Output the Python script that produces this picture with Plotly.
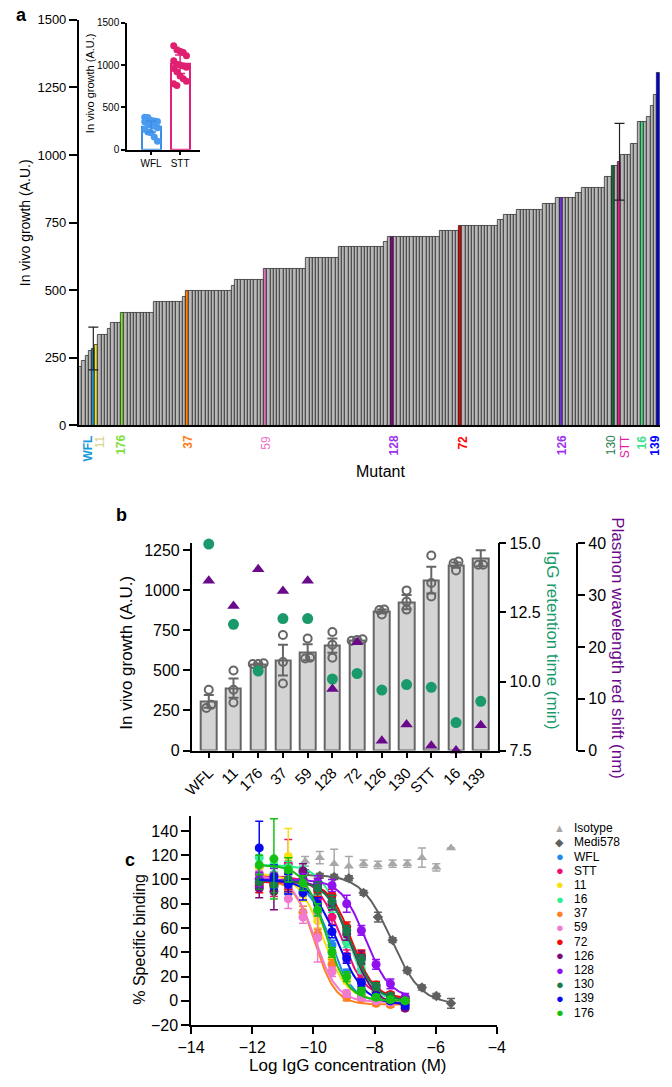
import numpy as np
import plotly.graph_objects as go

W, H = 672, 1087
def fx(p): return p / W
def fy(p): return 1 - p / H

FONT = "Liberation Sans, Arial, sans-serif"

# ---------------- panel a data ----------------
a_values = [218, 237, 258, 277, 284, 298, 335, 335, 335, 357, 378, 378, 378,
            418, 418, 418, 418, 418, 418, 418, 418, 418, 418,
            458, 458, 458, 458, 458, 458, 458, 458, 458,
            477,
            499, 499, 499, 499, 499, 499, 499, 499, 499, 499, 499, 499, 499, 499,
            517,
            538, 538, 538, 538, 538, 538, 538, 538, 538,
            578, 578, 578, 578, 578, 578, 578, 578, 578, 578, 578, 578, 578,
            619, 619, 619, 619, 619, 619, 619, 619, 619, 619,
            659, 659, 659, 659, 659, 659, 659, 659, 659, 659, 659, 659, 659, 659,
            680,
            699, 699, 699, 699, 699, 699, 699, 699, 699, 699, 699, 699, 699, 699, 699, 699,
            720, 720, 720, 720, 720, 720,
            739, 739, 739, 739, 739, 739, 739, 739, 739, 739, 739, 739,
            759, 759,
            780, 780, 780, 780,
            799, 799, 799, 799, 799, 799, 799, 799,
            820, 820, 820, 820,
            840, 840, 840, 840, 840, 840,
            859, 859,
            880, 880, 880, 880, 880, 880, 880,
            920, 920,
            960, 960, 975,
            1000, 1000, 1000,
            1040, 1040,
            1121, 1121, 1121,
            1142, 1182, 1222, 1303]
a_hl_names = ['WFL', '11', '176', '37', '59', '128', '72', '126', '130', 'STT', '16', '139']
a_hl_index = [4, 5, 13, 33, 57, 96, 117, 148, 164, 166, 173, 178]
a_hl_bar_colors = ['#2090c8', '#f0e030', '#80e030', '#ff8000', '#e070c0', '#8b008b',
                   '#e00000', '#7030e0', '#1a6a3a', '#e0208a', '#40e080', '#0000e0']
a_hl_label_colors = ['#1a9ad8', '#d8d080', '#80e040', '#ff7f20', '#f070c8', '#a030f0',
                     '#ff0000', '#a030f0', '#2a8050', '#e020a0', '#40e090', '#0000ff']
a_hl_bold = [True, False, True, True, False, True, True, True, False, False, True, True]
a_hl_shift = [-5, 3, -1, 1, 1, 2, 3, 1, -2, 5, 0, -3]
a_err_index = [4, 166]
a_err_mean = [284, 975]
a_err_size = [79, 142]
a_yticks = [0, 250, 500, 750, 1000, 1250, 1500]

# inset
inset_cats = ['WFL', 'STT']
inset_wfl_points = [385, 380, 345, 340, 335, 330, 300, 290, 280, 260, 240, 210, 200, 150, 100]
inset_stt_points = [1230, 1180, 1165, 1150, 1110, 1050, 1010, 1000, 990, 975, 960, 920, 870, 840, 810, 780, 760]
inset_means = [275, 1010]
inset_sd = [65, 110]

# ---------------- panel b data ----------------
b_cats = ['WFL', '11', '176', '37', '59', '128', '72', '126', '130', 'STT', '16', '139']
b_means = [307, 389, 538, 565, 614, 655, 688, 870, 927, 1064, 1158, 1201]
b_sem = [40, 60, 5, 96, 50, 45, 5, 10, 45, 84, 17, 50]
b_points = [[380, 285, 265], [500, 380, 300], [545, 540, 540], [722, 553, 419],
            [700, 580, 575], [740, 660, 580], [685, 690, 695], [880, 878, 850],
            [1000, 930, 880], [1218, 1046, 962], [1180, 1170, 1125], [1300, 1160, 1160]]
b_igg = [14.98, 12.07, 10.38, 12.28, 12.28, 10.09, 10.29, 9.69, 9.89, 9.79, 8.51, 9.28]
b_plasmon = [32.8, 27.9, 35.0, 30.8, 32.8, 11.9, 20.9, 1.9, 5.0, 0.9, 0.0, 4.9]

# ---------------- panel c data ----------------
c_conc = [-11.77, -11.29, -10.82, -10.34, -9.86, -9.39, -8.91, -8.43, -7.95, -7.48, -7.0]
ctrl_conc = [-10.27, -9.79, -9.32, -8.84, -8.36, -7.89, -7.41, -6.93, -6.45, -5.98, -5.5]
iso_vals = [115, 118, 113, 111, 113, 112, 113, 113, 118, 110, 126]
iso_err = [4, 5, 12, 8, 3, 3, 3, 3, 8, 3, 0]
medi_vals = [106, 103, 102, 101, 89, 69, 50, 25, 11, 4, -2]
medi_err = [2, 2, 2, 2, 2, 4, 2, 2, 2, 2, 4]
medi_fit = [104, -3, -7.45, 0.9]  # top, bottom, logIC50, hill

c_names = ['WFL', 'STT', '11', '16', '37', '59', '72', '126', '128', '130', '139', '176']
c_colors = ['#1e88f0', '#f0107a', '#f5e012', '#2ef090', '#ff8020', '#f07ad0',
            '#f00a0a', '#7a0a7a', '#9010f0', '#1a7a4a', '#0a0af0', '#14c014']
c_values = [
    [101, 104, 89, 91, 73, 46, 23, 9, 3, 1, -2],
    [97, 94, 113, 100, 84, 69, 37, 18, 7, 5, 2],
    [110, 100, 119, 88, 66, 35, 18, 5, 2, 0, 0],
    [118, 112, 110, 105, 92, 78, 48, 26, 8, 3, 0],
    [104, 96, 92, 73, 55, 30, 3, 2, -2, -3, -3],
    [105, 98, 84, 69, 52, 24, 6, 3, 0, -1, -2],
    [95, 96, 98, 100, 91, 87, 61, 38, 13, 5, 2],
    [93, 90, 98, 107, 96, 80, 55, 36, 10, 2, -6],
    [100, 103, 99, 100, 98, 95, 80, 58, 30, 14, 3],
    [98, 95, 100, 97, 93, 82, 58, 34, 12, 4, 0],
    [126, 102, 96, 89, 80, 57, 35, 15, 4, 0, -4],
    [112, 117, 108, 97, 75, 40, 20, 8, 3, 1, 0],
]
c_errors = [
    [8, 6, 5, 5, 4, 4, 3, 3, 2, 2, 2],
    [6, 8, 20, 6, 5, 6, 5, 3, 2, 2, 2],
    [8, 6, 23, 6, 6, 4, 4, 3, 2, 2, 2],
    [6, 6, 5, 6, 5, 5, 4, 3, 2, 2, 2],
    [6, 6, 8, 5, 4, 4, 3, 2, 2, 2, 2],
    [6, 6, 8, 5, 20, 4, 3, 2, 2, 2, 2],
    [6, 6, 6, 5, 5, 5, 4, 4, 3, 2, 2],
    [8, 15, 8, 6, 5, 5, 5, 5, 3, 2, 2],
    [6, 6, 6, 5, 5, 5, 7, 4, 4, 4, 3],
    [6, 6, 5, 5, 5, 5, 4, 4, 3, 2, 2],
    [22, 10, 8, 6, 5, 5, 4, 3, 2, 2, 2],
    [8, 33, 10, 6, 5, 4, 4, 3, 2, 2, 2],
]
# fitted 4PL parameters: top, bottom, logIC50, hill
c_fits = [
    [100, -1, -9.45, 1.2], [103, 2, -9.1, 1.1], [105, 0, -9.7, 1.1], [112, 0, -8.95, 1.1],
    [100, -3, -9.95, 1.3], [103, -1, -9.95, 1.2], [98, 2, -8.75, 1.2], [100, -4, -8.8, 1.1],
    [100, 2, -8.3, 1.1], [99, 0, -8.8, 1.1], [100, -3, -9.2, 1.0], [112, 0, -9.6, 1.2],
]

def four_pl(x, p):
    top, bottom, c, h = p
    return bottom + (top - bottom) / (1 + 10 ** ((x - c) * h))

fig = go.Figure()

# ---------- panel a bars ----------
n = len(a_values)
idx = list(range(n))
bar_colors = ['#b8b8b8'] * n
for i, c in zip(a_hl_index, a_hl_bar_colors):
    bar_colors[i] = c
fig.add_trace(go.Bar(x=idx, y=a_values, width=1, marker=dict(color=bar_colors, line=dict(color='#1a1a1a', width=0.7)),
                     xaxis='x', yaxis='y', showlegend=False))
fig.add_trace(go.Scatter(x=a_err_index, y=a_err_mean, mode='markers', marker=dict(size=1, opacity=0),
                         error_y=dict(type='data', array=a_err_size, color='#222', thickness=1.2, width=5),
                         xaxis='x', yaxis='y', showlegend=False, cliponaxis=False))

# ---------- inset ----------
fig.add_trace(go.Bar(x=[0, 1], y=inset_means, width=0.65,
                     marker=dict(color='rgba(255,255,255,0)', line=dict(color=['#3a8ee6', '#e0207a'], width=2)),
                     xaxis='x2', yaxis='y2', showlegend=False))
jit = [-0.22, -0.11, 0.0, 0.11, 0.22]
fig.add_trace(go.Scatter(x=[jit[i % 5] for i in range(len(inset_wfl_points))], y=inset_wfl_points, mode='markers',
                         marker=dict(size=7, color='#4a9af0'), xaxis='x2', yaxis='y2', showlegend=False))
fig.add_trace(go.Scatter(x=[1 + jit[i % 5] for i in range(len(inset_stt_points))], y=inset_stt_points, mode='markers',
                         marker=dict(size=7, color='#e0206e'), xaxis='x2', yaxis='y2', showlegend=False))
for k, col in enumerate(['#3a8ee6', '#e0207a']):
    fig.add_trace(go.Scatter(x=[k], y=[inset_means[k]], mode='markers', marker=dict(size=1, opacity=0),
                             error_y=dict(type='data', array=[inset_sd[k]], color=col, thickness=1.5, width=5),
                             xaxis='x2', yaxis='y2', showlegend=False))

# ---------- panel b ----------
bx = list(range(len(b_cats)))
fig.add_trace(go.Bar(x=bx, y=b_means, width=0.62,
                     marker=dict(color='#d4d4d4', line=dict(color='#666666', width=2)),
                     xaxis='x3', yaxis='y3', showlegend=False))
fig.add_trace(go.Scatter(x=bx, y=b_means, mode='markers', marker=dict(size=1, opacity=0),
                         error_y=dict(type='data', array=b_sem, color='#666666', thickness=2, width=5),
                         xaxis='x3', yaxis='y3', showlegend=False, cliponaxis=False))

def spread(vals, thresh=22, step=0.22):
    order = sorted(range(len(vals)), key=lambda i: vals[i])
    groups, cur = [], [order[0]]
    for i in order[1:]:
        if abs(vals[i] - vals[cur[-1]]) <= thresh:
            cur.append(i)
        else:
            groups.append(cur); cur = [i]
    groups.append(cur)
    off = [0.0] * len(vals)
    for g in groups:
        m = len(g)
        for j, i in enumerate(g):
            off[i] = (j - (m - 1) / 2) * (step if m > 2 else step * 0.9)
    return off

px_, py_ = [], []
for k, pts in enumerate(b_points):
    off = spread(pts)
    for v, o in zip(pts, off):
        px_.append(k + o); py_.append(v)
fig.add_trace(go.Scatter(x=px_, y=py_, mode='markers',
                         marker=dict(symbol='circle-open', size=8, color='#666666', line=dict(width=2)),
                         xaxis='x3', yaxis='y3', showlegend=False, cliponaxis=False))
fig.add_trace(go.Scatter(x=bx, y=b_igg, mode='markers', marker=dict(size=11, color='#1a9a6a'),
                         xaxis='x3', yaxis='y4', showlegend=False, cliponaxis=False))
fig.add_trace(go.Scatter(x=bx, y=b_plasmon, mode='markers', marker=dict(symbol='triangle-up', size=11, color='#6a0a8a'),
                         xaxis='x3', yaxis='y5', showlegend=False, cliponaxis=False))

# ---------- panel c ----------
fig.add_trace(go.Scatter(x=ctrl_conc, y=iso_vals, mode='markers',
                         marker=dict(symbol='triangle-up', size=9, color='#a8a8a8'),
                         error_y=dict(type='data', array=iso_err, color='#a8a8a8', thickness=1.5, width=4),
                         xaxis='x4', yaxis='y6', showlegend=False, cliponaxis=False))
xf = np.linspace(min(ctrl_conc), max(ctrl_conc), 200)
fig.add_trace(go.Scatter(x=xf, y=four_pl(xf, medi_fit), mode='lines', line=dict(color='#606060', width=2),
                         xaxis='x4', yaxis='y6', showlegend=False))
fig.add_trace(go.Scatter(x=ctrl_conc, y=medi_vals, mode='markers',
                         marker=dict(symbol='diamond', size=8, color='#606060'),
                         error_y=dict(type='data', array=medi_err, color='#606060', thickness=1.5, width=4),
                         xaxis='x4', yaxis='y6', showlegend=False, cliponaxis=False))
xf2 = np.linspace(min(c_conc), max(c_conc), 200)
for name, col, vals, errs, p in zip(c_names, c_colors, c_values, c_errors, c_fits):
    fig.add_trace(go.Scatter(x=xf2, y=four_pl(xf2, p), mode='lines', line=dict(color=col, width=2),
                             xaxis='x4', yaxis='y6', showlegend=False))
    fig.add_trace(go.Scatter(x=c_conc, y=vals, mode='markers', marker=dict(size=9, color=col),
                             error_y=dict(type='data', array=errs, color=col, thickness=1.5, width=4),
                             xaxis='x4', yaxis='y6', showlegend=False, cliponaxis=False))

ax_common = dict(showgrid=False, zeroline=False, showline=True, linecolor='black', linewidth=1.5,
                 ticks='outside', tickcolor='black', tickwidth=1.5)

layout = dict(
    width=W, height=H, margin=dict(l=0, r=0, t=0, b=0),
    paper_bgcolor='white', plot_bgcolor='rgba(0,0,0,0)',
    font=dict(family=FONT, color='black'),
    bargap=0, showlegend=False,
    xaxis=dict(domain=[fx(67), fx(669)], range=[-0.5, n - 0.5], anchor='y', showgrid=False, zeroline=False,
               showline=True, linecolor='black', linewidth=1.8, showticklabels=False, ticks=''),
    yaxis=dict(domain=[fy(424), fy(12)], range=[0, 1500], anchor='x', tickvals=a_yticks, ticklen=8,
               tickfont=dict(size=13), **ax_common),
    xaxis2=dict(domain=[fx(117), fx(193)], range=[-0.83, 1.7], anchor='y2', tickvals=[0, 1], ticktext=inset_cats,
                ticklen=4, tickfont=dict(size=10), **ax_common),
    yaxis2=dict(domain=[fy(144), fy(15)], range=[0, 1500], anchor='x2', tickvals=[0, 500, 1000, 1500], ticklen=4,
                tickfont=dict(size=10), **ax_common),
    xaxis3=dict(domain=[fx(184), fx(500.7)], range=[-0.69, 11.68], anchor='y3', tickvals=bx, ticktext=b_cats,
                tickangle=-45, ticklen=6, tickfont=dict(size=15), **ax_common),
    yaxis3=dict(domain=[fy(754.3), fy(544)], range=[0, 1293], anchor='x3', tickvals=[0, 250, 500, 750, 1000, 1250],
                ticklen=7, tickfont=dict(size=16), **ax_common),
    yaxis4=dict(domain=[fy(754.3), fy(544)], range=[7.5, 15], anchor='x3', overlaying='y3', side='right',
                tickvals=[7.5, 10, 12.5, 15], ticktext=['7.5', '10.0', '12.5', '15.0'], ticklen=7,
                tickfont=dict(size=16), **ax_common),
    yaxis5=dict(domain=[fy(754.3), fy(544)], range=[0, 40], anchor='free', overlaying='y3', side='right',
                position=fx(583.3), tickvals=[0, 10, 20, 30, 40], ticklen=7, tickfont=dict(size=16), **ax_common),
    xaxis4=dict(domain=[fx(183.3), fx(500)], range=[-14, -4], anchor='y6', tickvals=[-14, -12, -10, -8, -6, -4],
                ticklen=7, tickfont=dict(size=16), **ax_common),
    yaxis6=dict(domain=[fy(1033.3), fy(821.2)], range=[-20, 152], anchor='x4',
                tickvals=[-20, 0, 20, 40, 60, 80, 100, 120, 140], ticklen=8, tickfont=dict(size=16), **ax_common),
)
fig.update_layout(**layout)

ann = []
def text(x, y, s, size, color='black', angle=0, bold=False, xanchor='center', yanchor='middle', xref='paper', xshift=0):
    ann.append(dict(x=x, y=y, xref=xref, yref='paper', text=('<b>%s</b>' % s) if bold else s, showarrow=False,
                    textangle=angle, font=dict(size=size, color=color, family=FONT),
                    xanchor=xanchor, yanchor=yanchor, xshift=xshift))

# panel labels
text(fx(0), fy(7), 'a', 18, bold=True, xanchor='left')
text(fx(104), fy(515), 'b', 18, bold=True, xanchor='left')
text(fx(113), fy(866), 'c', 18, bold=True, xanchor='left')

# panel a titles
text(fx(11), fy(218), 'In vivo growth (A.U.)', 14, angle=-90)
text(fx(380), fy(471), 'Mutant', 16)
text(fx(78), fy(76), 'In vivo growth (A.U.)', 11, angle=-90)
for name, i, col, b, sh in zip(a_hl_names, a_hl_index, a_hl_label_colors, a_hl_bold, a_hl_shift):
    text(i, fy(432), name, 12, color=col, angle=-90, bold=b, xref='x', yanchor='top', xshift=sh)

# panel b titles
text(fx(117), fy(655), 'In vivo growth (A.U.)', 17, angle=-90)
text(fx(557), fy(643), 'IgG retention time (min)', 17, color='#1a9a6a', angle=90)
text(fx(625), fy(650), 'Plasmon wavelength red shift (nm)', 17, color='#6a0a8a', angle=90)

# panel c titles
text(fx(130), fy(946), '% Specific binding', 16, angle=-90)
text(fx(345), fy(1086), 'Log IgG concentration (M)', 17, yanchor='bottom')

# panel c legend
leg_names = ['Isotype', 'Medi578'] + c_names
leg_colors = ['#a8a8a8', '#606060'] + c_colors
leg_syms = ['\u25B2', '\u25C6'] + ['\u25CF'] * len(c_names)
for k, (nm, col, sy) in enumerate(zip(leg_names, leg_colors, leg_syms)):
    yy = 833.3 + k * 14.4
    text(fx(565), fy(yy), sy, 11 if k < 2 else 13, color=col)
    text(fx(578), fy(yy), nm, 12, xanchor='left')

fig.update_layout(annotations=ann)
fig.write_html("out.html", config={'displayModeBar': False},
               post_script="document.body.style.margin='0';document.body.style.overflow='hidden';")
